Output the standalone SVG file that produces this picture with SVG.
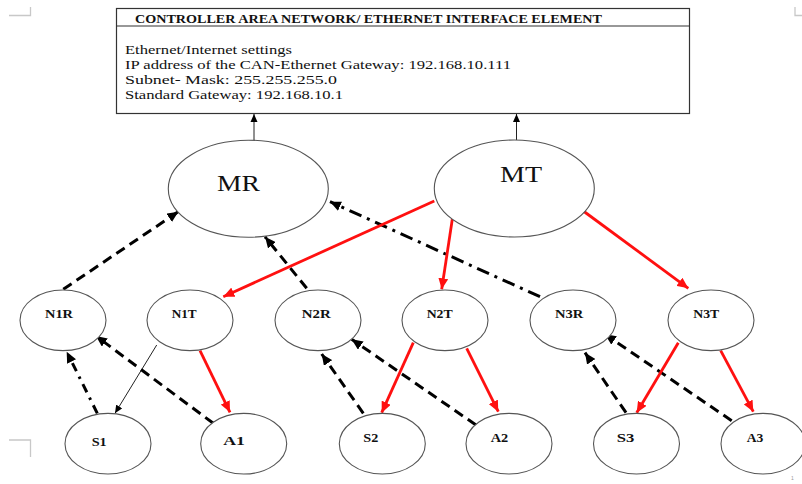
<svg xmlns="http://www.w3.org/2000/svg" width="802" height="484" viewBox="0 0 802 484">
<style>
.bg{fill:#fff}
.node{fill:#fff;stroke:#555;stroke-width:1.1}
.box{fill:#fff;stroke:#333;stroke-width:1.2}
.crop{stroke:#c8c8c8;stroke-width:1.3;fill:none}
.lbl{font-family:"Liberation Serif","Times New Roman",serif;font-weight:bold;font-size:12.5px;fill:#111}
.big{font-family:"Liberation Serif","Times New Roman",serif;font-size:23px;fill:#111}
.title{font-family:"Liberation Serif","Times New Roman",serif;font-weight:bold;font-size:12px;fill:#111}
.body{font-family:"Liberation Serif","Times New Roman",serif;font-size:13.5px;fill:#111}
.red{stroke:#ff1010;stroke-width:2.8;fill:none}
.dash{stroke:#000;stroke-width:3;fill:none;stroke-dasharray:10 6}
.dashdot{stroke:#000;stroke-width:3;fill:none;stroke-dasharray:13 6 3 6}
.thin{stroke:#222;stroke-width:1;fill:none}
</style>
<defs>
<marker id="ab" markerUnits="userSpaceOnUse" markerWidth="12" markerHeight="10" refX="11" refY="5" orient="auto"><path d="M0,0 L11,5 L0,10 Z" fill="#000"/></marker>
<marker id="ar" markerUnits="userSpaceOnUse" markerWidth="12" markerHeight="10" refX="11" refY="5" orient="auto"><path d="M0,0 L11,5 L0,10 Z" fill="#ff1010"/></marker>
<marker id="as" markerUnits="userSpaceOnUse" markerWidth="9" markerHeight="8" refX="8" refY="4" orient="auto"><path d="M0,0.5 L8,4 L0,7.5 Z" fill="#000"/></marker>
</defs>
<rect class="bg" x="0" y="0" width="802" height="484"/>
<g id="cropmarks">
<path class="crop" d="M9,15.5 H30.5 V7"/>
<path class="crop" d="M795,7 V15.5 H802"/>
<path class="crop" d="M9,440 H30.5 V457"/>
<text x="791" y="480" font-family="Liberation Sans,sans-serif" font-size="5" fill="#999">1</text>
</g>
<g id="gateway">
<rect class="box" x="116.5" y="8.5" width="573" height="105"/>
<line x1="116.5" y1="26" x2="689.5" y2="26" stroke="#333" stroke-width="1.2"/>
<text class="title" x="135" y="22.5" textLength="467" lengthAdjust="spacingAndGlyphs">CONTROLLER AREA NETWORK/ ETHERNET INTERFACE ELEMENT</text>
<text class="body" x="125" y="53.5" textLength="167" lengthAdjust="spacingAndGlyphs">Ethernet/Internet settings</text>
<text class="body" x="125" y="68.5" textLength="386" lengthAdjust="spacingAndGlyphs">IP address of the CAN-Ethernet Gateway: 192.168.10.111</text>
<text class="body" x="125" y="83.5" textLength="212" lengthAdjust="spacingAndGlyphs">Subnet- Mask: 255.255.255.0</text>
<text class="body" x="125" y="98.5" textLength="218" lengthAdjust="spacingAndGlyphs">Standard Gateway: 192.168.10.1</text>
</g>
<g id="connectors">
<line class="thin" x1="254" y1="140" x2="254" y2="114" marker-end="url(#as)"/>
<line class="thin" x1="516.5" y1="140" x2="516.5" y2="114" marker-end="url(#as)"/>
<line class="dash" x1="63.3" y1="289.3" x2="178.3" y2="211.7" marker-end="url(#ab)"/>
<line class="dash" x1="306.7" y1="288.3" x2="265" y2="236.7" marker-end="url(#ab)"/>
<line class="dashdot" x1="540" y1="296.7" x2="330" y2="201.7" marker-end="url(#ab)"/>
<line class="red" x1="434.3" y1="201" x2="223.3" y2="296.7" marker-end="url(#ar)"/>
<line class="red" x1="452.3" y1="219.3" x2="441.7" y2="289.3" marker-end="url(#ar)"/>
<line class="red" x1="583.3" y1="211" x2="688.3" y2="288.3" marker-end="url(#ar)"/>
<line class="thin" x1="156.7" y1="345" x2="115" y2="413.3" marker-end="url(#as)"/>
<line class="red" x1="200" y1="350.7" x2="230" y2="412.3" marker-end="url(#ar)"/>
<line class="dashdot" x1="97.3" y1="413.3" x2="66.7" y2="351.7" marker-end="url(#ab)" style="stroke-dasharray:9 6 2.5 6"/>
<line class="dash" x1="213.3" y1="423.3" x2="96" y2="336" marker-end="url(#ab)"/>
<line class="dash" x1="363.3" y1="413.3" x2="321.7" y2="354" marker-end="url(#ab)"/>
<line class="dash" x1="476" y1="425" x2="351.7" y2="339.3" marker-end="url(#ab)"/>
<line class="red" x1="413.3" y1="342.7" x2="381.7" y2="412.7" marker-end="url(#ar)"/>
<line class="red" x1="466.7" y1="348.3" x2="498.3" y2="411.7" marker-end="url(#ar)"/>
<line class="dash" x1="626" y1="412.7" x2="585" y2="352.7" marker-end="url(#ab)"/>
<line class="dash" x1="731.7" y1="420.7" x2="605" y2="334.3" marker-end="url(#ab)"/>
<line class="red" x1="678.3" y1="342.7" x2="636.7" y2="412.7" marker-end="url(#ar)"/>
<line class="red" x1="720.7" y1="350.7" x2="753.3" y2="411.7" marker-end="url(#ar)"/>
</g>
<g id="MR"><ellipse class="node" cx="248.3" cy="188.7" rx="80" ry="48.5"/><text class="big" x="217" y="191" textLength="43" lengthAdjust="spacingAndGlyphs">MR</text></g>
<g id="MT"><ellipse class="node" cx="514.3" cy="188.5" rx="80" ry="48.5"/><text class="big" x="500" y="182" textLength="42" lengthAdjust="spacingAndGlyphs">MT</text></g>
<g id="N1R"><ellipse class="node" cx="63" cy="320.3" rx="43" ry="30.3"/><text class="lbl" x="45" y="318.3" textLength="28" lengthAdjust="spacingAndGlyphs">N1R</text></g>
<g id="N1T"><ellipse class="node" cx="190" cy="320.3" rx="43" ry="30.3"/><text class="lbl" x="171.7" y="318.3" textLength="25" lengthAdjust="spacingAndGlyphs">N1T</text></g>
<g id="N2R"><ellipse class="node" cx="318" cy="320.3" rx="43" ry="30.3"/><text class="lbl" x="301.7" y="318.3" textLength="29" lengthAdjust="spacingAndGlyphs">N2R</text></g>
<g id="N2T"><ellipse class="node" cx="445" cy="320.3" rx="43" ry="30.3"/><text class="lbl" x="426.7" y="318.3" textLength="26" lengthAdjust="spacingAndGlyphs">N2T</text></g>
<g id="N3R"><ellipse class="node" cx="573" cy="320.3" rx="43" ry="30.3"/><text class="lbl" x="555" y="318.3" textLength="28.3" lengthAdjust="spacingAndGlyphs">N3R</text></g>
<g id="N3T"><ellipse class="node" cx="711" cy="320.3" rx="43" ry="30.3"/><text class="lbl" x="693.3" y="318.3" textLength="26" lengthAdjust="spacingAndGlyphs">N3T</text></g>
<g id="S1"><ellipse class="node" cx="108" cy="443.7" rx="43" ry="30.3"/><text class="lbl" x="91.7" y="445.5" textLength="15" lengthAdjust="spacingAndGlyphs">S1</text></g>
<g id="A1"><ellipse class="node" cx="243.7" cy="443.7" rx="43" ry="30.3"/><text class="lbl" x="223.3" y="444.5" textLength="21.7" lengthAdjust="spacingAndGlyphs">A1</text></g>
<g id="S2"><ellipse class="node" cx="382.3" cy="443.7" rx="43" ry="30.3"/><text class="lbl" x="363.3" y="442" textLength="15" lengthAdjust="spacingAndGlyphs">S2</text></g>
<g id="A2"><ellipse class="node" cx="509" cy="443.7" rx="43" ry="30.3"/><text class="lbl" x="490.7" y="442" textLength="17.6" lengthAdjust="spacingAndGlyphs">A2</text></g>
<g id="S3"><ellipse class="node" cx="636.5" cy="443.7" rx="43" ry="30.3"/><text class="lbl" x="616.7" y="442" textLength="17.6" lengthAdjust="spacingAndGlyphs">S3</text></g>
<g id="A3"><ellipse class="node" cx="763" cy="443.7" rx="42" ry="30.3"/><text class="lbl" x="746.7" y="442" textLength="16.6" lengthAdjust="spacingAndGlyphs">A3</text></g>
</svg>
